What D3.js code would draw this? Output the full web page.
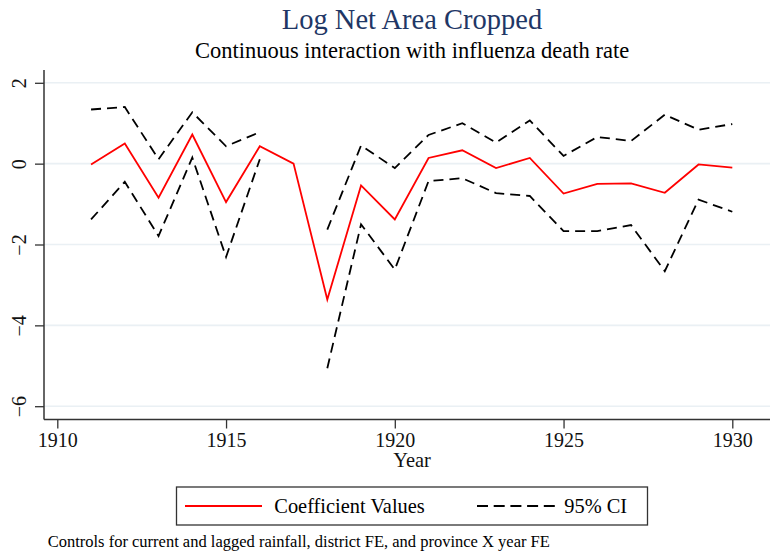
<!DOCTYPE html>
<html>
<head>
<meta charset="utf-8">
<script src="https://cdn.jsdelivr.net/npm/d3@7"></script>
<style>
  body { margin: 0; background: #fff; }
  text { font-family: "Liberation Serif", "Times New Roman", serif; }
</style>
</head>
<body>
<div id="chart"></div>
<script>
// data
let years = [1911, 1912, 1913, 1914, 1915, 1916, 1917, 1918, 1919, 1920,
  1921, 1922, 1923, 1924, 1925, 1926, 1927, 1928, 1929, 1930];
let coefValues = [-0.02, 0.50, -0.84, 0.72, -0.95, 0.43, 0.0, -3.36, -0.54, -1.38,
  0.14, 0.33, -0.11, 0.14, -0.74, -0.50, -0.49, -0.72, -0.02, -0.10];
let upperCI = [1.34, 1.40, 0.11, 1.27, 0.43, 0.78, null, -1.63, 0.45, -0.11,
  0.71, 1.00, 0.52, 1.07, 0.19, 0.66, 0.56, 1.21, 0.84, 0.98];
let lowerCI = [-1.38, -0.45, -1.79, 0.15, -2.31, 0.11, null, -5.06, -1.50, -2.62,
  -0.43, -0.36, -0.73, -0.80, -1.67, -1.67, -1.52, -2.66, -0.89, -1.19];
let xTicks = [1910, 1915, 1920, 1925, 1930];
let yTicks = [2, 0, -2, -4, -6];

// svg definitions
let svgWidth = 770;
let svgHeight = 554;

// plot region
let plot = { left: 44, right: 780, top: 70, bottom: 419.5 };

let svg = d3.select('#chart')
  .append('svg')
  .attr('width', svgWidth)
  .attr('height', svgHeight);

// scales
let xScale = d3.scaleLinear().domain([1910, 1930]).range([57.3, 732.3]);
let yScale = d3.scaleLinear().domain([-6, 2]).range([406.2, 82.8]);

// grid lines
svg.append('g')
  .selectAll('line')
  .data(yTicks)
  .enter()
  .append('line')
  .attr('x1', plot.left)
  .attr('x2', plot.right)
  .attr('y1', d => yScale(d))
  .attr('y2', d => yScale(d))
  .attr('stroke', '#eaf0f4')
  .attr('stroke-width', 1.6);

// series
let pts = years.map((yr, i) => ({ yr: yr, c: coefValues[i], u: upperCI[i], l: lowerCI[i] }));

let lineOf = key => d3.line()
  .defined(d => d[key] !== null)
  .x(d => xScale(d.yr))
  .y(d => yScale(d[key]));

['u', 'l'].forEach(function(key) {
  svg.append('path')
    .datum(pts)
    .attr('d', lineOf(key))
    .attr('fill', 'none')
    .attr('stroke', '#000')
    .attr('stroke-width', 1.8)
    .attr('stroke-dasharray', '10,6');
});

svg.append('path')
  .datum(pts)
  .attr('d', lineOf('c'))
  .attr('fill', 'none')
  .attr('stroke', '#ff0000')
  .attr('stroke-width', 1.8)
  .attr('stroke-linejoin', 'miter');

// y axis
let leftAxis = d3.axisLeft(yScale)
  .tickValues(yTicks)
  .tickSize(9)
  .tickPadding(0)
  .tickFormat(d => d < 0 ? '\u2212' + Math.abs(d) : d);

let yAxis = svg.append('g')
  .attr('transform', `translate(${plot.left}, 0)`)
  .call(leftAxis);
yAxis.select('.domain').remove();
yAxis.selectAll('line').attr('stroke', '#333').attr('stroke-width', 1.3);
yAxis.selectAll('text')
  .attr('x', 0)
  .attr('y', 0)
  .attr('dy', 0)
  .attr('font-size', '20px')
  .attr('fill', '#111')
  .attr('text-anchor', 'middle')
  .attr('transform', `translate(${25.5 - plot.left}, 0) rotate(-90)`);

// x axis
let bottomAxis = d3.axisBottom(xScale)
  .tickValues(xTicks)
  .tickSize(9)
  .tickPadding(5)
  .tickFormat(d3.format('d'));

let xAxis = svg.append('g')
  .attr('transform', `translate(0, ${plot.bottom})`)
  .call(bottomAxis);
xAxis.select('.domain').remove();
xAxis.selectAll('line').attr('stroke', '#333').attr('stroke-width', 1.3);
xAxis.selectAll('text')
  .attr('font-size', '20px')
  .attr('fill', '#111')
  .attr('dy', 0)
  .attr('y', 27.5);

// axis lines
svg.append('line')
  .attr('x1', plot.left).attr('x2', plot.left)
  .attr('y1', plot.top).attr('y2', plot.bottom)
  .attr('stroke', '#333').attr('stroke-width', 1.5);
svg.append('line')
  .attr('x1', plot.left).attr('x2', plot.right)
  .attr('y1', plot.bottom).attr('y2', plot.bottom)
  .attr('stroke', '#333').attr('stroke-width', 1.5);

// titles
svg.append('text')
  .attr('x', 412)
  .attr('y', 29)
  .attr('text-anchor', 'middle')
  .attr('font-size', '28.5px')
  .attr('fill', '#1f3766')
  .text('Log Net Area Cropped');

svg.append('text')
  .attr('x', 412)
  .attr('y', 57.5)
  .attr('text-anchor', 'middle')
  .attr('font-size', '22.5px')
  .attr('fill', '#000')
  .text('Continuous interaction with influenza death rate');

svg.append('text')
  .attr('x', 412)
  .attr('y', 466.5)
  .attr('text-anchor', 'middle')
  .attr('font-size', '20.4px')
  .attr('fill', '#111')
  .text('Year');

// legend
let legend = svg.append('g');
legend.append('rect')
  .attr('x', 176.5).attr('y', 487)
  .attr('width', 471).attr('height', 38)
  .attr('fill', '#fff')
  .attr('stroke', '#333')
  .attr('stroke-width', 1.3);
legend.append('line')
  .attr('x1', 185).attr('x2', 262)
  .attr('y1', 506).attr('y2', 506)
  .attr('stroke', '#ff0000').attr('stroke-width', 1.8);
legend.append('text')
  .attr('x', 274.3).attr('y', 513)
  .attr('font-size', '20.4px')
  .text('Coefficient Values');
legend.append('line')
  .attr('x1', 477).attr('x2', 555)
  .attr('y1', 506).attr('y2', 506)
  .attr('stroke', '#000').attr('stroke-width', 1.8)
  .attr('stroke-dasharray', '11,5.7');
legend.append('text')
  .attr('x', 564.3).attr('y', 513)
  .attr('font-size', '20.4px')
  .text('95% CI');

// note
svg.append('text')
  .attr('x', 47.7)
  .attr('y', 546.5)
  .attr('font-size', '16.5px')
  .text('Controls for current and lagged rainfall, district FE, and province X year FE');
</script>
</body>
</html>
